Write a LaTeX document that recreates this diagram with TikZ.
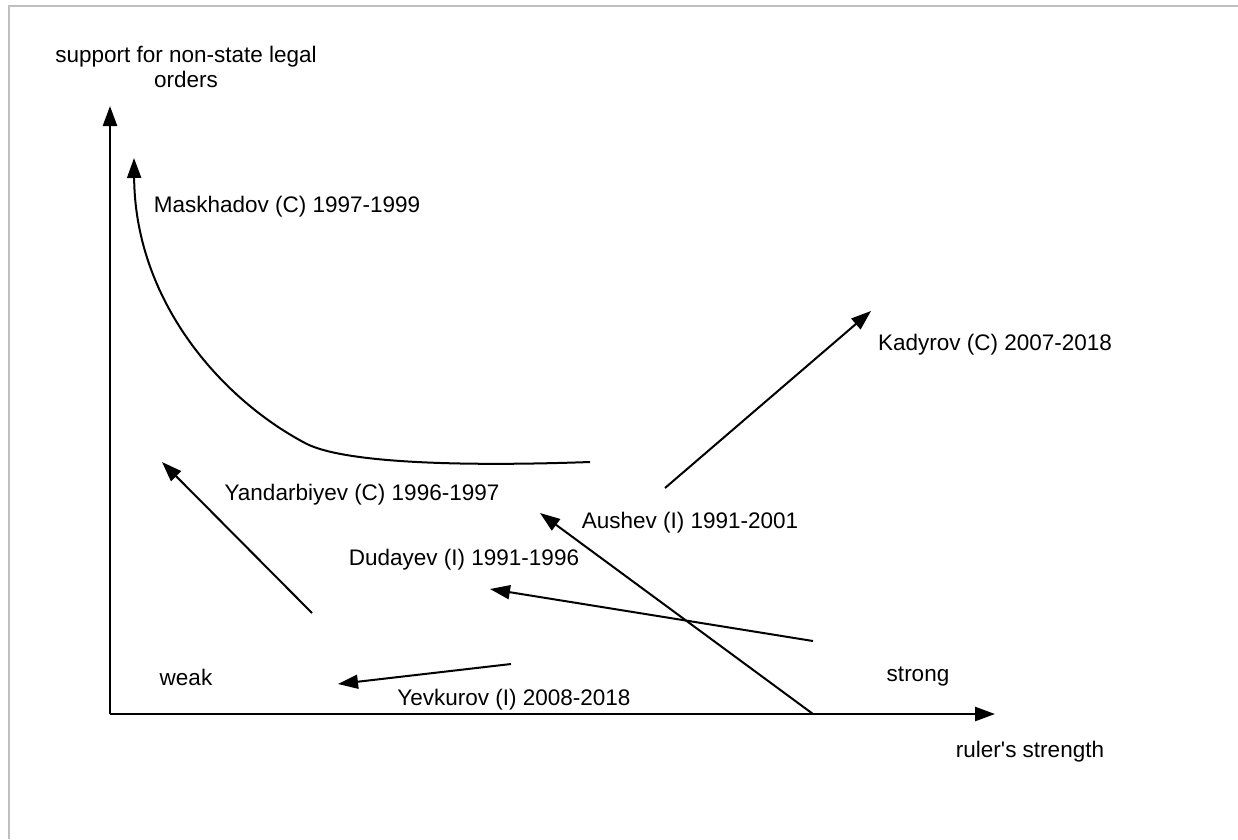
\documentclass[tikz,border=0pt]{standalone}
\usepackage{fontspec}
\setmainfont{Liberation Sans}
\usetikzlibrary{arrows.meta}

\begin{document}
\begin{tikzpicture}[x=1pt,y=-1pt,>={Triangle[length=20pt,width=14pt]},
  lbl/.style={inner sep=0pt,font=\fontsize{22.5}{25}\selectfont},
  axis/.style={line width=2.6pt,->},
  move/.style={line width=2pt,->}]
  \useasboundingbox (0,0) rectangle (1238,839);
  % page frame (top and left edges)
  \draw[black!25,line width=1.4pt] (1238,6)--(9,6)--(9,839);
  % axes
  \coordinate (O) at (110,714);
  \coordinate (ytip) at (110,106);
  \coordinate (xtip) at (995,714);
  \draw[axis] (O)--(ytip);
  \draw[axis] (O)--(xtip);
  \node[lbl,align=center] (ylab) at (186,67) {support for non-state legal\\orders};
  \node[lbl] (xlab) at (1030,752) {ruler\textquotesingle s strength};
  \node[lbl] (weak) at (186,677) {weak};
  \node[lbl] (strong) at (918,677) {strong};
  % rulers
  \coordinate (maskS) at (590,462);
  \coordinate (maskE) at (134,158);
  \draw[move] (maskS) .. controls (450,467) and (340,462) .. (305,443)
    .. controls (220,398) and (135,300) .. (maskE);
  \node[lbl] (mask) at (287,207) {Maskhadov (C) 1997-1999};
  \coordinate (yandS) at (312,613);
  \coordinate (yandE) at (162,462);
  \draw[move] (yandS)--(yandE);
  \node[lbl] (yand) at (362,495) {Yandarbiyev (C) 1996-1997};
  \coordinate (kadS) at (665,488);
  \coordinate (kadE) at (871,311);
  \draw[move] (kadS)--(kadE);
  \node[lbl] (kad) at (995,345) {Kadyrov (C) 2007-2018};
  \coordinate (ausS) at (813,714);
  \coordinate (ausE) at (540,513);
  \draw[move] (ausS)--(ausE);
  \node[lbl] (aus) at (690,523) {Aushev (I) 1991-2001};
  \coordinate (dudS) at (813,641);
  \coordinate (dudE) at (490,589);
  \draw[move] (dudS)--(dudE);
  \node[lbl] (dud) at (464,560) {Dudayev (I) 1991-1996};
  \coordinate (yevS) at (511,664);
  \coordinate (yevE) at (338,684);
  \draw[move] (yevS)--(yevE);
  \node[lbl] (yev) at (514,700) {Yevkurov (I) 2008-2018};
\end{tikzpicture}
\end{document}
